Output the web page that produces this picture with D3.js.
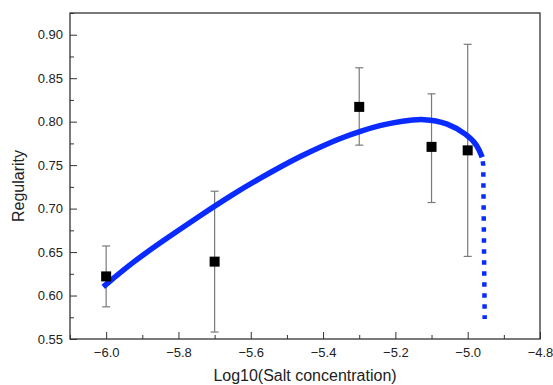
<!DOCTYPE html>
<html>
<head>
<meta charset="utf-8">
<script src="https://cdn.jsdelivr.net/npm/d3@7"></script>
<style>
  body { margin: 0; background: #fff; }
  text { font-family: "Liberation Sans", Arial, sans-serif; fill: #222; }
</style>
</head>
<body>
<div id="chart"></div>
<script>
// measured points (mean +/- error)
const saltLog = [-6.0, -5.7, -5.3, -5.1, -5.0];
const regularity = [0.622, 0.639, 0.817, 0.771, 0.767];
const errLow = [0.587, 0.558, 0.773, 0.707, 0.645];
const errHigh = [0.657, 0.720, 0.862, 0.832, 0.889];

// fitted curve (solid part)
const fitX = [-6.008, -5.925, -5.832, -5.740, -5.648, -5.574, -5.518, -5.463, -5.407, -5.352, -5.297, -5.241, -5.180, -5.121, -5.057, -5.001, -4.973, -4.960];
const fitY = [0.610, 0.639, 0.666, 0.692, 0.717, 0.735, 0.748, 0.760, 0.771, 0.781, 0.789, 0.796, 0.801, 0.8035, 0.799, 0.785, 0.773, 0.759];
// dotted tail
const tailX = [-4.960, -4.957, -4.953];
const tailY = [0.759, 0.750, 0.573];

const xTicks = [-6.0, -5.8, -5.6, -5.4, -5.2, -5.0, -4.8];
const yTicks = [0.55, 0.60, 0.65, 0.70, 0.75, 0.80, 0.85, 0.90];

const margin = {top: 13, right: 13, bottom: 46, left: 70},
  width = 553 - margin.left - margin.right,
  height = 385 - margin.top - margin.bottom;

const svg = d3.select("#chart")
  .append("svg")
  .attr("width", 553)
  .attr("height", 385)
  .append("g")
  .attr("transform", `translate(${margin.left},${margin.top})`);

const x = d3.scaleLinear().domain([-6.1, -4.8]).range([0, width]);
const y = d3.scaleLinear().domain([0.55, 0.925]).range([height, 0]);

// minor ticks
const xMinor = d3.range(-6.1, -4.79, 0.1).filter(v => !xTicks.some(t => Math.abs(t - v) < 1e-6));
const yMinor = d3.range(0.575, 0.925, 0.05);

svg.append("g")
  .attr("transform", `translate(0,${height})`)
  .call(d3.axisBottom(x).tickValues(xMinor).tickSize(-4).tickFormat(""))
  .call(g => g.select(".domain").remove())
  .selectAll("line").attr("stroke", "#333");
svg.append("g")
  .call(d3.axisLeft(y).tickValues(yMinor).tickSize(-4).tickFormat(""))
  .call(g => g.select(".domain").remove())
  .selectAll("line").attr("stroke", "#333");

// X axis
const xAxis = svg.append("g")
  .attr("transform", `translate(0,${height})`)
  .call(d3.axisBottom(x).tickValues(xTicks).tickSize(-7).tickPadding(9).tickFormat(d3.format(".1f")));
xAxis.selectAll("text").style("font-size", "13px").attr("fill", "#222");
xAxis.selectAll("line").attr("stroke", "#333");
xAxis.select(".domain").remove();

// Y axis
const yAxis = svg.append("g")
  .call(d3.axisLeft(y).tickValues(yTicks).tickSize(-7).tickPadding(7).tickFormat(d3.format(".2f")));
yAxis.selectAll("text").style("font-size", "13px").attr("fill", "#222");
yAxis.selectAll("line").attr("stroke", "#333");
yAxis.select(".domain").remove();

// frame
svg.append("rect")
  .attr("width", width)
  .attr("height", height)
  .attr("fill", "none")
  .attr("stroke", "#333")
  .attr("stroke-width", 1.3);

// axis titles
svg.append("text")
  .attr("x", width / 2)
  .attr("y", height + 42)
  .attr("text-anchor", "middle")
  .style("font-size", "16px")
  .text("Log10(Salt concentration)");
svg.append("text")
  .attr("transform", `translate(-46,${186 - margin.top}) rotate(-90)`)
  .attr("text-anchor", "middle")
  .style("font-size", "16px")
  .text("Regularity");

// error bars
const pts = saltLog.map((d, i) => ({x: d, y: regularity[i], lo: errLow[i], hi: errHigh[i]}));
svg.selectAll("errline")
  .data(pts)
  .join("line")
    .attr("x1", d => x(d.x)).attr("x2", d => x(d.x))
    .attr("y1", d => y(d.lo)).attr("y2", d => y(d.hi))
    .attr("stroke", "#7a7a7a").attr("stroke-width", 1.2);
["lo", "hi"].forEach(k => {
  svg.selectAll("cap" + k)
    .data(pts)
    .join("line")
      .attr("x1", d => x(d.x) - 4).attr("x2", d => x(d.x) + 4)
      .attr("y1", d => y(d[k])).attr("y2", d => y(d[k]))
      .attr("stroke", "#7a7a7a").attr("stroke-width", 1.2);
});

// fit curve
const line = d3.line()
  .x(d => x(d[0]))
  .y(d => y(d[1]))
  .curve(d3.curveBasis);

svg.append("path")
  .datum(fitX.map((d, i) => [d, fitY[i]]))
  .attr("d", line)
  .attr("fill", "none")
  .attr("stroke", "#0a2bff")
  .attr("stroke-width", 5.5);

svg.append("path")
  .datum(tailX.map((d, i) => [d, tailY[i]]))
  .attr("d", d3.line().x(d => x(d[0])).y(d => y(d[1])))
  .attr("fill", "none")
  .attr("stroke", "#0a2bff")
  .attr("stroke-width", 4.5)
  .attr("stroke-dasharray", "4.5,6.5")
  .attr("stroke-dashoffset", -4);

// squares
svg.selectAll("mysquare")
  .data(pts)
  .join("rect")
    .attr("x", d => x(d.x) - 5)
    .attr("y", d => y(d.y) - 5)
    .attr("width", 10)
    .attr("height", 10)
    .attr("fill", "#000");
</script>
</body>
</html>
